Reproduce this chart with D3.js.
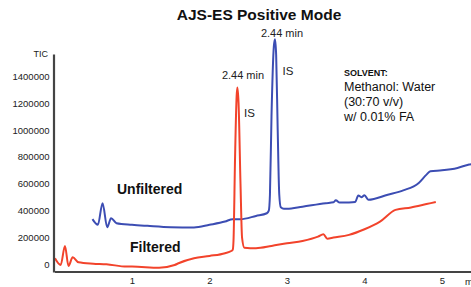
<!DOCTYPE html>
<html>
<head>
<meta charset="utf-8">
<script src="https://cdn.jsdelivr.net/npm/d3@7"></script>
<style>
  body { margin: 0; background: #fff; }
  svg { display: block; font-family: "Liberation Sans", Arial, sans-serif; }
</style>
</head>
<body>
<script>
// chart values
var yTicks = [0, 200000, 400000, 600000, 800000, 1000000, 1200000, 1400000];
var xTicks = [1, 2, 3, 4, 5];

// Unfiltered (blue) trace: time (min) and TIC counts
var unfTime = [0.49, 0.56, 0.62, 0.68, 0.73, 0.8, 1.0, 1.2, 1.5, 1.8, 2.0, 2.2, 2.3, 2.4, 2.6, 2.74,
  2.765, 2.78, 2.80, 2.83, 2.845, 2.86, 2.88, 2.90, 2.92, 2.96, 3.0, 3.2, 3.5, 3.6, 3.63, 3.68, 3.8,
  3.88, 3.92, 3.96, 4.0, 4.05, 4.3, 4.5, 4.7, 4.8, 4.85, 5.0, 5.2, 5.35, 5.4];
var unfTic = [337000, 295000, 456000, 277000, 344000, 307000, 295000, 287000, 277000, 275000, 295000, 319000, 337000, 337000, 361000, 381000,
  400000, 520000, 1100000, 1620000, 1675000, 1560000, 1000000, 520000, 425000, 414000, 414000, 430000, 456000, 462000, 478000, 460000, 461000,
  465000, 513000, 500000, 515000, 481000, 519000, 551000, 606000, 668000, 693000, 700000, 718000, 743000, 748000];

// Filtered (red) trace
var filTime = [0.006, 0.08, 0.135, 0.18, 0.235, 0.31, 0.5, 0.67, 0.93, 1.0, 1.35, 1.55, 1.6, 1.8, 2.0, 2.2, 2.28,
  2.30, 2.31, 2.33, 2.35, 2.36, 2.375, 2.40, 2.42, 2.45, 2.6, 2.8, 3.0, 3.2, 3.4, 3.47, 3.52, 3.6, 3.8,
  4.0, 4.2, 4.4, 4.6, 4.8, 4.92];
var filTic = [46000, -4000, 138000, -11000, 54000, 16000, 6000, 1500, -16000, -16000, -24000, -4000, 9000, 46000, 63000, 84000, 100000,
  110000, 180000, 800000, 1250000, 1315000, 1200000, 600000, 200000, 125000, 121000, 138000, 158000, 175000, 207000, 225000, 192000, 200000, 220000,
  262000, 319000, 406000, 424000, 449000, 464000];

var width = 471, height = 287;

var svg = d3.select("body").append("svg")
    .attr("width", width)
    .attr("height", height);

var x = d3.scaleLinear().domain([0, 5.4]).range([54.5, 473]);
var y = d3.scaleLinear().domain([-56000, 1565000]).range([272, 54]);

var red = "#f2432b", blue = "#3c4db3";

// title
svg.append("text")
    .attr("x", 259).attr("y", 20)
    .attr("text-anchor", "middle")
    .style("font-size", "15.5px").style("font-weight", "bold")
    .style("fill", "#111")
    .text("AJS-ES Positive Mode");

// lines
var line = d3.line()
    .x(function(d) { return x(d[0]); })
    .y(function(d) { return y(d[1]); })
    .curve(d3.curveMonotoneX);

svg.append("path")
    .datum(d3.zip(unfTime, unfTic))
    .attr("fill", "none").attr("stroke", blue).attr("stroke-width", 2)
    .attr("d", line);

svg.append("path")
    .datum(d3.zip(filTime, filTic))
    .attr("fill", "none").attr("stroke", red).attr("stroke-width", 2)
    .attr("d", line);

// y axis
var yAxis = svg.append("g")
    .attr("transform", "translate(53.5,0)")
    .call(d3.axisLeft(y).tickValues(yTicks).tickSize(0).tickPadding(4).tickFormat(d3.format("d")));
yAxis.select(".domain").attr("stroke", "#444").attr("stroke-width", 2.2);
yAxis.selectAll("text").style("font-size", "9.5px").style("fill", "#222")
    .style("font-family", "Liberation Sans, Arial, sans-serif");

// x axis
var xAxis = svg.append("g")
    .attr("transform", "translate(0,271.5)")
    .call(d3.axisBottom(x).tickValues(xTicks).tickSize(0).tickPadding(6).tickFormat(d3.format("d")));
xAxis.select(".domain").attr("stroke", "#444").attr("stroke-width", 2.2);
xAxis.selectAll("text").style("font-size", "9.5px").style("fill", "#222")
    .style("font-family", "Liberation Sans, Arial, sans-serif");

svg.append("text")
    .attr("x", 465).attr("y", 285)
    .style("font-size", "9.5px").style("fill", "#222")
    .text("min");

svg.append("text")
    .attr("x", 48).attr("y", 56.5)
    .attr("text-anchor", "end")
    .style("font-size", "9px").style("fill", "#222")
    .text("TIC");

// series labels
svg.append("text")
    .attr("x", 117).attr("y", 194)
    .style("font-size", "14px").style("font-weight", "bold").style("fill", "#111")
    .text("Unfiltered");

svg.append("text")
    .attr("x", 130).attr("y", 252)
    .style("font-size", "14px").style("font-weight", "bold").style("fill", "#111")
    .text("Filtered");

// peak annotations
svg.append("text")
    .attr("x", 243).attr("y", 79)
    .attr("text-anchor", "middle")
    .style("font-size", "11px").style("fill", "#222")
    .text("2.44 min");

svg.append("text")
    .attr("x", 282).attr("y", 37)
    .attr("text-anchor", "middle")
    .style("font-size", "11px").style("fill", "#222")
    .text("2.44 min");

svg.append("text")
    .attr("x", 244).attr("y", 117)
    .style("font-size", "11.5px").style("fill", "#222")
    .text("IS");

svg.append("text")
    .attr("x", 282.5).attr("y", 75)
    .style("font-size", "11.5px").style("fill", "#222")
    .text("IS");

// solvent note
svg.append("text")
    .attr("x", 344).attr("y", 76)
    .style("font-size", "9px").style("font-weight", "bold").style("fill", "#111")
    .text("SOLVENT:");

var notes = ["Methanol: Water", "(30:70 v/v)", "w/ 0.01% FA"];
svg.selectAll(".note")
    .data(notes)
  .enter().append("text")
    .attr("class", "note")
    .attr("x", 344)
    .attr("y", function(d, i) { return 90.5 + i * 15; })
    .style("font-size", "12.5px").style("fill", "#111")
    .text(function(d) { return d; });
</script>
</body>
</html>
